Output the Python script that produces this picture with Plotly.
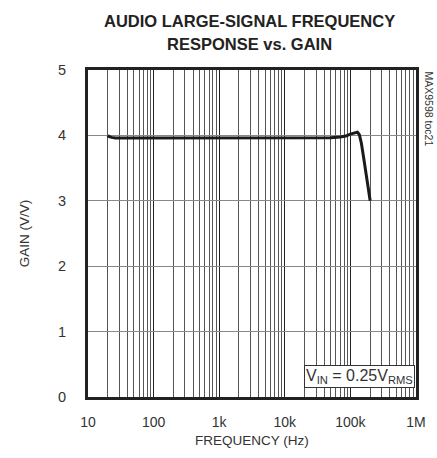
import plotly.graph_objects as go

freq_hz = [20, 21, 23, 26, 30, 50, 100, 1000, 10000, 50000, 70000, 85000, 100000, 115000, 128000, 137000, 147000, 158000, 170000, 185000, 200000]
gain_vv = [4.00, 3.98, 3.97, 3.96, 3.96, 3.96, 3.96, 3.96, 3.96, 3.965, 3.975, 3.99, 4.02, 4.04, 4.05, 4.01, 3.88, 3.68, 3.45, 3.2, 3.0]

x_tickvals = [10, 100, 1000, 10000, 100000, 1000000]
x_ticktext = ["10", "100", "1k", "10k", "100k", "1M"]
y_tickvals = [0, 1, 2, 3, 4, 5]

FONT = "Liberation Sans, Arial"

fig = go.Figure()
fig.add_trace(go.Scatter(x=freq_hz, y=gain_vv, mode="lines",
                         line=dict(color="#1a1a1a", width=3), showlegend=False))

fig.update_layout(
    width=437, height=458,
    margin=dict(l=88, r=21, t=70, b=61, autoexpand=False),
    paper_bgcolor="white", plot_bgcolor="white",
    font=dict(family=FONT, color="#333333"),
)

fig.update_xaxes(
    type="log", range=[1, 6],
    tickvals=x_tickvals, ticktext=x_ticktext,
    showgrid=True, gridcolor="#222222", gridwidth=1,
    minor=dict(showgrid=True, gridcolor="#555555", gridwidth=1, dtick="D1", ticks=""),
    showline=True, linecolor="#222222", linewidth=3, mirror=True,
    ticks="", ticklabelstandoff=10, automargin=False,
    tickfont=dict(family=FONT, size=14, color="#333333"),
    title=dict(text="FREQUENCY (Hz)", font=dict(family=FONT, size=13.5, color="#333333"), standoff=7),
    zeroline=False,
)
fig.update_yaxes(
    range=[0, 5], tickvals=y_tickvals,
    showgrid=True, gridcolor="#888888", gridwidth=1,
    showline=True, linecolor="#222222", linewidth=3, mirror=True,
    ticks="", ticklabelstandoff=16, automargin=False,
    tickfont=dict(family=FONT, size=14.5, color="#333333"),
    title=dict(text="GAIN (V/V)", font=dict(family=FONT, size=13.5, color="#333333"), standoff=26),
    zeroline=False,
)

# title as two centred lines
fig.add_annotation(text="<b>AUDIO LARGE-SIGNAL FREQUENCY</b>", xref="paper", yref="paper",
                   x=0.493, y=1.0 + 49/327, xanchor="center", yanchor="middle", showarrow=False,
                   font=dict(family=FONT, size=16.5, color="#222222"))
fig.add_annotation(text="<b>RESPONSE vs. GAIN</b>", xref="paper", yref="paper",
                   x=0.493, y=1.0 + 26/327, xanchor="center", yanchor="middle", showarrow=False,
                   font=dict(family=FONT, size=16.5, color="#222222"))

fig.add_annotation(
    text="V<sub>IN</sub> = 0.25V<sub>RMS</sub>",
    xref="paper", yref="paper", x=0.998, y=9/327, xanchor="right", yanchor="bottom",
    showarrow=False, bgcolor="white", bordercolor="#333333", borderwidth=1, borderpad=1,
    font=dict(family=FONT, size=16, color="#333333"),
)
fig.add_annotation(
    text="MAX9598 toc21", textangle=90,
    xref="paper", yref="paper", x=1.0 + 5/328, y=1.0, xanchor="left", yanchor="top",
    showarrow=False, font=dict(family=FONT, size=10.5, color="#333333"),
)

fig.write_html("out.html", config={"displayModeBar": False},
               post_script="document.body.style.margin='0';")
